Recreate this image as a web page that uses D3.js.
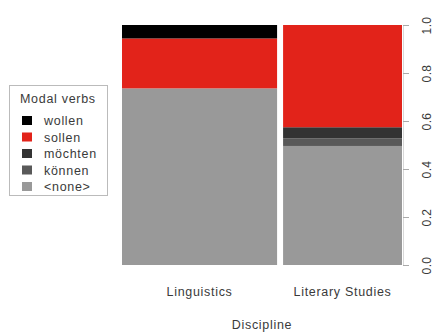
<!DOCTYPE html>
<html>
<head>
<meta charset="utf-8">
<script src="https://cdn.jsdelivr.net/npm/d3@7"></script>
<style>
  html, body { margin: 0; padding: 0; background: #fff; }
  svg text { font-family: "Liberation Sans", Arial, sans-serif; fill: #3a3a3a; }
</style>
</head>
<body>
<svg id="chart" width="433" height="332"></svg>
<script>
// Disciplines and their share of all observations (bar widths)
const disciplines = ["Linguistics", "Literary Studies"];
const disciplineShare = [0.566, 0.434];

// Modal verb categories, stacked from the bottom up
const verbs = ["<none>", "können", "möchten", "sollen", "wollen"];
const verbColors = ["#999999", "#595959", "#333333", "#e2231a", "#000000"];

// Conditional proportions of each verb within a discipline
const linguisticsShare = [0.736, 0.000, 0.000, 0.208, 0.056];
const literaryShare    = [0.496, 0.032, 0.046, 0.426, 0.000];
const shares = [linguisticsShare, literaryShare];

const yTicks = [0, 0.2, 0.4, 0.6, 0.8, 1.0];

const svg = d3.select("#chart");
const plotLeft = 122, plotRight = 402, plotTop = 25, plotBottom = 265, barGap = 6;
const fontSize = 12.5, spacing = 0.7;

const x = d3.scaleLinear().domain([0, 1])
  .range([plotLeft, plotRight - barGap * (disciplines.length - 1)]);
const y = d3.scaleLinear().domain([0, 1]).range([plotBottom, plotTop]);

// Spine bars
let cum = 0;
disciplines.forEach((d, i) => {
  const x0 = x(cum) + i * barGap;
  const x1 = x(cum + disciplineShare[i]) + i * barGap;
  cum += disciplineShare[i];
  const stack = d3.cumsum(shares[i]);
  const g = svg.append("g");
  g.selectAll("rect").data(shares[i].map((v, k) => ({ v, k, hi: stack[k], lo: stack[k] - v })))
    .join("rect")
    .attr("x", x0)
    .attr("width", x1 - x0)
    .attr("y", s => y(s.hi))
    .attr("height", s => y(s.lo) - y(s.hi))
    .attr("fill", s => verbColors[s.k]);
  svg.append("text")
    .attr("x", (x0 + x1) / 2).attr("y", 296)
    .attr("text-anchor", "middle").attr("font-size", fontSize)
    .attr("letter-spacing", spacing)
    .text(d);
});

// Right-hand axis
const axis = svg.append("g").attr("transform", `translate(${plotRight + 1},0)`)
  .call(d3.axisRight(y).tickValues(yTicks).tickSize(6).tickFormat(d3.format(".1f")));
axis.select(".domain").attr("stroke", "#d8d8d8");
axis.selectAll(".tick line").attr("stroke", "#aaa");
axis.selectAll(".tick text")
  .attr("font-family", "Liberation Sans, Arial, sans-serif")
  .attr("font-size", 12).attr("letter-spacing", 0.4)
  .attr("text-anchor", "middle")
  .attr("x", 0).attr("dy", "0.35em")
  .attr("transform", "translate(24,0) rotate(-90)");

// Axis title
svg.append("text")
  .attr("x", 262).attr("y", 329)
  .attr("text-anchor", "middle").attr("font-size", fontSize)
  .attr("letter-spacing", spacing)
  .text("Discipline");

// Legend
const lg = svg.append("g");
lg.append("rect").attr("x", 9.5).attr("y", 85.5).attr("width", 98).attr("height", 110)
  .attr("fill", "#fff").attr("stroke", "#bbb");
lg.append("text").attr("x", 20).attr("y", 103).attr("font-size", fontSize)
  .attr("letter-spacing", spacing).text("Modal verbs");
const legendOrder = verbs.slice().reverse();
legendOrder.forEach((v, j) => {
  const k = verbs.indexOf(v);
  const cy = 120.5 + j * 16.5;
  lg.append("rect").attr("x", 22).attr("y", cy - 4.5).attr("width", 10).attr("height", 9)
    .attr("fill", verbColors[k]);
  lg.append("text").attr("x", 44).attr("y", cy + 4.5).attr("font-size", fontSize)
    .attr("letter-spacing", spacing).text(v);
});
</script>
</body>
</html>
